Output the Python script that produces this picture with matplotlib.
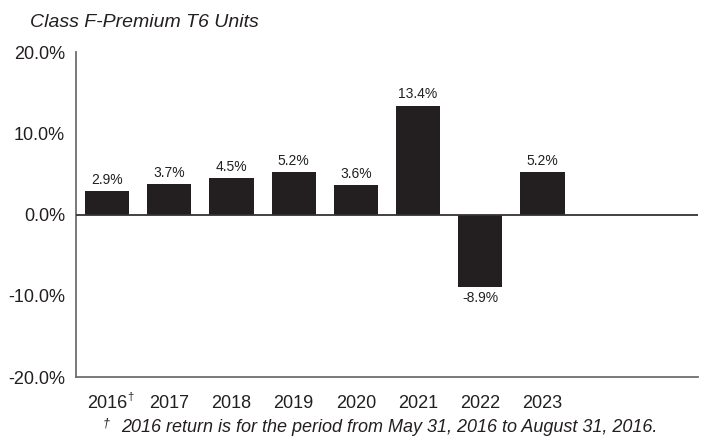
import matplotlib.pyplot as plt
import numpy as np

plt.rcParams['font.family'] = ['Liberation Sans', 'DejaVu Sans']

years = ['2016', '2017', '2018', '2019', '2020', '2021', '2022', '2023']
returns = [2.9, 3.7, 4.5, 5.2, 3.6, 13.4, -8.9, 5.2]
yticks = [-20, -10, 0, 10, 20]

dark = '#231f20'
grey = '#6d6e71'

fig = plt.figure(figsize=(7.07, 4.41), dpi=100)
ax = fig.add_axes([0.1075, 0.145, 0.8798, 0.737])

x = np.arange(len(years))
bars = ax.bar(x, returns, width=0.71, color=dark, zorder=2)

for xi, v in zip(x, returns):
    if v >= 0:
        ax.annotate(f'{v:.1f}%', (xi, v), xytext=(0, 3), textcoords='offset points',
                    ha='center', va='bottom', fontsize=10, color=dark)
    else:
        ax.annotate(f'{v:.1f}%', (xi, v), xytext=(0, -3), textcoords='offset points',
                    ha='center', va='top', fontsize=10, color=dark)

ax.axhline(0, color='#333333', lw=1.3, zorder=3)

ax.set_xlim(-0.5, 9.5)
ax.set_ylim(-20, 20)
ax.set_yticks(yticks)
ax.set_yticklabels([f'{t:.1f}%' for t in yticks])
ax.set_xticks(x)
ax.set_xticklabels(years)
ax.tick_params(axis='both', length=0, labelsize=13, colors=dark)
ax.tick_params(axis='x', pad=13)
ax.tick_params(axis='y', pad=8)

for s in ['top', 'right']:
    ax.spines[s].set_visible(False)
ax.spines['left'].set_color(grey)
ax.spines['left'].set_linewidth(1.3)
ax.spines['bottom'].set_color(grey)
ax.spines['bottom'].set_linewidth(1.3)

# dagger after the 2016 label
ax.annotate('\u2020', (0, 0), xycoords=('data', 'axes fraction'),
            xytext=(14.5, -14.5), textcoords='offset points',
            ha='left', va='center', fontsize=8, color=dark)

fig.text(0.042, 0.948, 'Class F-Premium T6 Units', fontsize=14, style='italic',
         ha='left', va='center', color=dark)
fig.text(0.145, 0.04, '\u2020', fontsize=9, style='italic', ha='left', va='center', color=dark)
fig.text(0.172, 0.031, '2016 return is for the period from May 31, 2016 to August 31, 2016.',
         fontsize=13, style='italic', ha='left', va='center', color=dark)

fig.savefig('out.png', dpi=100)
